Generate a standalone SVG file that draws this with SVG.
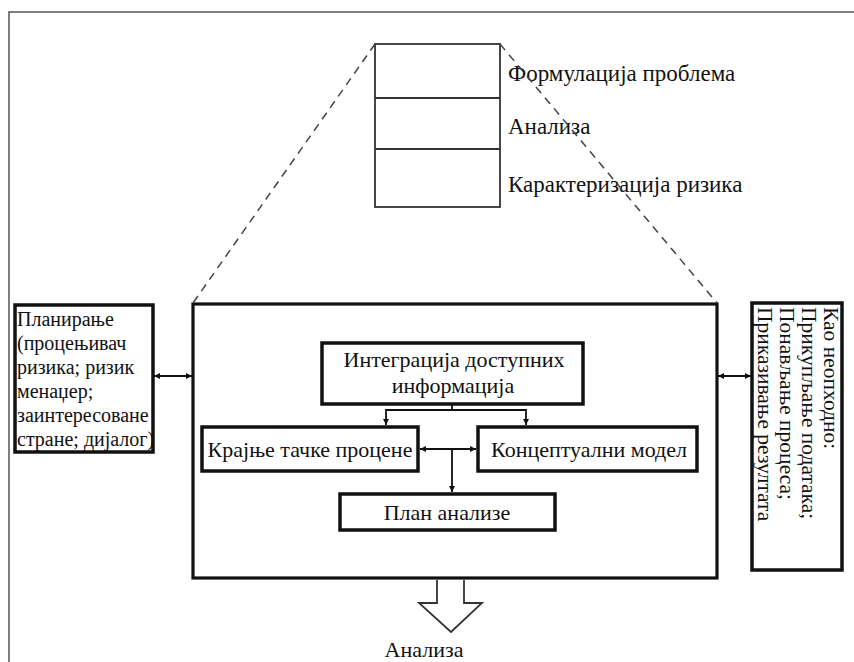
<svg xmlns="http://www.w3.org/2000/svg" width="854" height="662" viewBox="0 0 854 662">
<style>
text{fill:#111;}
.box{fill:#fff;stroke:#111;stroke-width:3.5;}
.frame{fill:none;stroke:#111;stroke-width:3.2;}
.thin{fill:#fff;stroke:#333;stroke-width:1.8;}
.dash{fill:none;stroke:#444;stroke-width:1.5;stroke-dasharray:8 6;}
.ln{fill:none;stroke:#111;stroke-width:1.8;}
</style>
<defs>
<marker id="ah" viewBox="0 0 10 10" refX="10" refY="5" markerWidth="6" markerHeight="6" orient="auto-start-reverse" markerUnits="userSpaceOnUse">
<path d="M0,0 L10,5 L0,10 z" fill="#111"/>
</marker>
</defs>
<rect x="0" y="0" width="854" height="662" fill="#fff"/>
<rect id="frame" x="9" y="12" width="900" height="700" fill="none" stroke="#555" stroke-width="1.5"/>

<g id="stack">
<rect class="thin" x="375" y="44" width="125" height="163"/>
<line x1="375" y1="98" x2="500" y2="98" stroke="#333" stroke-width="1.8"/>
<line x1="375" y1="149" x2="500" y2="149" stroke="#333" stroke-width="1.8"/>
<text font-family="Liberation Serif" font-size="23" x="508" y="81">Формулација проблема</text>
<text font-family="Liberation Serif" font-size="23" x="508" y="134">Анализа</text>
<text font-family="Liberation Serif" font-size="23" x="508" y="192">Карактеризација ризика</text>
</g>

<g id="main">
<rect class="frame" x="193" y="304" width="524" height="274"/>
</g>

<g id="planning">
<rect class="box" x="15" y="305" width="138" height="147"/>
<text font-family="Liberation Serif" font-size="20" x="17" y="326">Планирање</text>
<text font-family="Liberation Serif" font-size="20" x="17" y="350">(процењивач</text>
<text font-family="Liberation Serif" font-size="20" x="17" y="374">ризика; ризик</text>
<text font-family="Liberation Serif" font-size="20" x="17" y="398">менаџер;</text>
<text font-family="Liberation Serif" font-size="20" x="17" y="422">заинтересоване</text>
<text font-family="Liberation Serif" font-size="20" x="17" y="446">стране; дијалог)</text>
</g>

<g id="asneeded">
<rect class="box" x="752" y="303" width="90" height="267"/>
<g transform="translate(842,307) rotate(90)">
<text font-family="Liberation Serif" font-size="21.5" x="0" y="18">Као неопходно:</text>
<text font-family="Liberation Serif" font-size="21.5" x="0" y="40">Прикупљање података;</text>
<text font-family="Liberation Serif" font-size="21.5" x="0" y="62">Понављање процеса;</text>
<text font-family="Liberation Serif" font-size="21.5" x="0" y="84">Приказивање резултата</text>
</g>
</g>

<g id="integration">
<rect class="box" x="322" y="343" width="261" height="61"/>
<text font-family="Liberation Serif" font-size="22" x="454" y="367" text-anchor="middle">Интеграција доступних</text>
<text font-family="Liberation Serif" font-size="22" x="453" y="393" text-anchor="middle">информација</text>
</g>

<g id="endpoints">
<rect class="box" x="202" y="427" width="216" height="44"/>
<text font-family="Liberation Serif" font-size="22" x="310" y="457" text-anchor="middle">Крајње тачке процене</text>
</g>

<g id="model">
<rect class="box" x="478" y="427" width="219" height="44"/>
<text font-family="Liberation Serif" font-size="22" x="589" y="457" text-anchor="middle">Концептуални модел</text>
</g>

<g id="plan">
<rect class="box" x="340" y="494" width="215" height="36"/>
<text font-family="Liberation Serif" font-size="22" x="447" y="520" text-anchor="middle">План анализе</text>
</g>

<g id="output">
<text font-family="Liberation Serif" font-size="22" x="424" y="657" text-anchor="middle">Анализа</text>
</g>

<g id="connectors">
<line class="dash" x1="375" y1="44" x2="193" y2="303"/>
<line class="dash" x1="500" y1="44" x2="717" y2="303"/>
<line class="ln" x1="154" y1="376" x2="192" y2="376" marker-start="url(#ah)" marker-end="url(#ah)"/>
<line class="ln" x1="718" y1="376" x2="751" y2="376" marker-start="url(#ah)" marker-end="url(#ah)"/>
<line class="ln" x1="452" y1="405" x2="452" y2="410"/>
<polyline class="ln" points="386,425 386,410 526,410 526,425" marker-start="url(#ah)" marker-end="url(#ah)"/>
<line class="ln" x1="420" y1="449" x2="476" y2="449" marker-start="url(#ah)" marker-end="url(#ah)"/>
<line class="ln" x1="452" y1="449" x2="452" y2="492" marker-end="url(#ah)"/>
<path d="M437,580 L437,603 L419,603 L451,632 L482,603 L464,603 L464,580" fill="#fff" stroke="#333" stroke-width="1.8"/>
</g>
</svg>
